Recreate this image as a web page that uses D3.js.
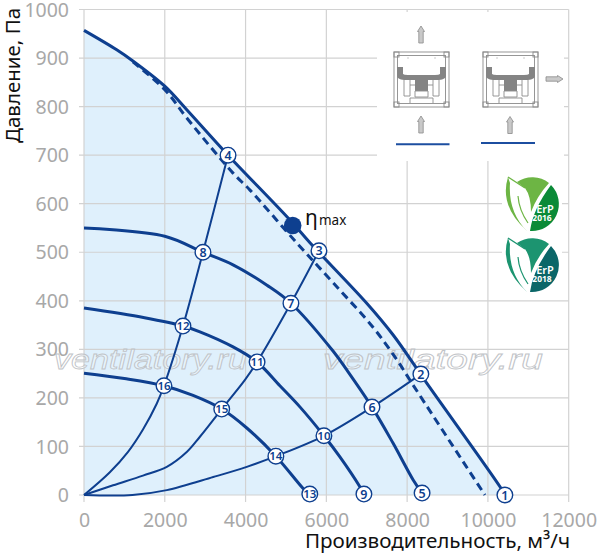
<!DOCTYPE html>
<html><head><meta charset="utf-8">
<script src="https://cdn.jsdelivr.net/npm/d3@7"></script>
<style>html,body{margin:0;padding:0;background:#fff}svg{display:block}</style>
</head><body><svg id="c" width="597" height="556"></svg>
<script>
const xTicks=[0,2000,4000,6000,8000,10000,12000];
const yTicks=[0,100,200,300,400,500,600,700,800,900,1000];
const topCurve=[[0,957],[810,917],[1210,894],[2000,842],[2550,793],[3566,700],[5060,570],[5600,519],[7000,395],[7650,330],[8490,230],[10300,17],[10420,0]];
const dashedCurve=[[1210,892],[2000,835],[2550,776],[3690,663],[4110,628],[5270,519],[6170,437],[7150,346],[7750,278],[8120,230],[9925,0]];
const speed5=[[0,550],[2000,533],[2945,500],[3690,474],[4530,432],[5123,395],[6170,296],[6510,257],[7130,181],[7650,107],[8150,31],[8370,4]];
const speed9=[[0,385],[1500,365],[2450,348],[2870,336],[3690,305],[4285,274],[4850,225],[5350,181],[5940,122],[6340,78],[6830,17],[6930,2]];
const speed13=[[0,251],[1000,240],[1980,225],[2700,205],[3410,177],[4030,138],[4750,80],[5420,14],[5590,0]];
const sys1=[[0,0],[1200,0],[2050,10],[3200,37],[4030,58],[4750,80],[5940,122],[7130,181],[8340,249]];
const sys2=[[0,0],[720,20],[1460,40],[2050,58],[2550,89],[2870,120],[3410,177],[3985,237],[4285,274],[5123,395],[5817,503]];
const sys3=[[0,0],[640,47],[1090,89],[1460,135],[1800,188],[1980,225],[2450,348],[2945,500],[3566,700]];
const markerLabels=["1","2","3","4","5","6","7","8","9","10","11","12","13","14","15","16"];
const markerX=[10420,8340,5817,3566,8370,7130,5123,2945,6930,5940,4285,2450,5590,4750,3410,1980];
const markerY=[0,249,503,700,4,181,395,500,2,122,274,348,2,80,177,225];
const etaPoint=[5166,555];
const watermark="ventilatory.ru";
const xTitle="Производительность, м³/ч", yTitle="Давление, Па";

const F="'Noto Sans',sans-serif", blue="#0e3f8f", gridC="#d2d2d2", tickC="#a8a8a8";
const svg=d3.select("#c");
const x=d3.scaleLinear().domain([0,12000]).range([84,568.7]);
const y=d3.scaleLinear().domain([0,1000]).range([495,9.5]);
const curve=d3.curveCatmullRom.alpha(0.5);
const line=d3.line().x(d=>x(d[0])).y(d=>y(d[1])).curve(curve);
const area=d3.area().x(d=>x(d[0])).y0(y(0)).y1(d=>y(d[1])).curve(curve);

svg.append("path").datum(topCurve).attr("d",area).attr("fill","#dff0fc");
const g=svg.append("g");
g.selectAll(".v").data(xTicks).join("line").attr("x1",d=>x(d)).attr("x2",d=>x(d)).attr("y1",y(1000)).attr("y2",y(0)+7).attr("stroke",gridC).attr("stroke-width",1.2);
g.selectAll(".h").data(yTicks).join("line").attr("x1",x(0)-5).attr("x2",x(12000)).attr("y1",d=>y(d)).attr("y2",d=>y(d)).attr("stroke",gridC).attr("stroke-width",1.2);
const ax=svg.append("g").attr("transform",`translate(0,${y(0)})`).call(d3.axisBottom(x).tickValues(xTicks).tickFormat(d3.format("d")).tickSize(0).tickPadding(20));
const ay=svg.append("g").attr("transform",`translate(${x(0)},0)`).call(d3.axisLeft(y).tickValues(yTicks).tickFormat(d3.format("d")).tickSize(0).tickPadding(15));
[ax,ay].forEach(a=>{a.select(".domain").remove();a.selectAll("text").attr("font-family",F).attr("font-size",19.5).attr("fill",tickC)});
ay.selectAll("text").attr("dy","0.34em");
ax.selectAll("text").attr("dy","0.62em");
// white panels behind icons and logos
svg.append("rect").attr("x",377).attr("y",12).attr("width",187).attr("height",149).attr("fill","#fff");
svg.append("rect").attr("x",502).attr("y",165).attr("width",60).attr("height",130).attr("fill","#fff");
// watermark
svg.selectAll(".wm").data([[54,247],[323,543]]).join("text").text(watermark)
 .attr("x",d=>d[0]).attr("y",369).attr("textLength",d=>d[1]-d[0]).attr("lengthAdjust","spacingAndGlyphs")
 .attr("font-family","'Liberation Sans',sans-serif").attr("font-style","italic")
 .attr("font-size",28).attr("fill","#fff").attr("fill-opacity",0.3).attr("stroke","#bfc3c7").attr("stroke-width",0.8);
// curves
const main=svg.append("g").attr("fill","none").attr("stroke",blue);
[speed5,speed9,speed13].forEach(s=>main.append("path").attr("d",line(s)).attr("stroke-width",3));
[sys1,sys2,sys3].forEach(s=>main.append("path").attr("d",line(s)).attr("stroke-width",2));
main.append("path").attr("d",line(topCurve)).attr("stroke-width",3);
main.append("path").attr("d",line(dashedCurve)).attr("stroke-width",3).attr("stroke-dasharray","8 5");
// eta
svg.append("circle").attr("cx",x(etaPoint[0])).attr("cy",y(etaPoint[1])).attr("r",8.8).attr("fill",blue);
svg.append("text").attr("x",305).attr("y",225).attr("font-family",F).attr("font-size",21).attr("fill","#111").text("η");
svg.append("text").attr("x",319).attr("y",225).attr("font-family",F).attr("font-size",13.5).attr("fill","#111").text("max");
// markers
const m=svg.selectAll(".m").data(markerLabels).join("g").attr("transform",(d,i)=>`translate(${x(markerX[i])},${y(markerY[i])})`);
m.append("circle").attr("r",7.8).attr("fill","#fff").attr("stroke",blue).attr("stroke-width",1.4);
m.append("text").text(d=>d).attr("text-anchor","middle").attr("dy","0.36em").attr("font-family",F).attr("font-weight",600).attr("font-size",d=>d.length>1?11.5:12.5).attr("fill",blue);
// titles
svg.append("text").attr("x",437.5).attr("y",548).attr("text-anchor","middle").attr("font-family",F).attr("font-size",20.6).attr("fill","#111").text(xTitle);
svg.append("text").attr("transform","translate(20,143) rotate(-90)").attr("font-family",F).attr("font-size",20.5).attr("fill","#111").text(yTitle);

// fan icons
function arrow(px,py,rot){
 svg.append("path").attr("transform",`translate(${px},${py}) rotate(${rot})`)
  .attr("d","M-2.2,8.5V-3H-3.5L0,-8.5L3.5,-3H2.2V8.5Z").attr("fill","#c9c9c9").attr("stroke","#8a8a8a").attr("stroke-width",0.8);
}
function fan(px,py){
 const f=svg.append("g").attr("transform",`translate(${px},${py})`).attr("fill","none").attr("stroke","#8c8c8c").attr("stroke-width",0.9);
 f.append("rect").attr("width",55).attr("height",55);
 f.append("rect").attr("x",3.5).attr("y",3.5).attr("width",48).attr("height",48);
 [[0,0],[50,0],[0,50],[50,50]].forEach(c=>f.append("rect").attr("x",c[0]).attr("y",c[1]).attr("width",5).attr("height",5));
 f.append("path").attr("fill","#848484").attr("stroke","none").attr("d","M3,15H9V22Q10,23 14,23H41Q45,23 46,22V15H52V24Q52,27 45,28H34V39H21V28H10Q3,27 3,24Z");
 f.append("path").attr("d","M10,28V44H16V28M39,28V44H45V28M16,33H21M34,33H39M21,39V45M34,39V45M21,39H34M16,46H39V51M16,46V51M21,45H34");
 f.append("path").attr("d","M14,5.5V6.5M41,5.5V6.5");
}
fan(394,52);fan(483,52);
arrow(421,34.5,0);arrow(421,124.5,0);arrow(510,125,0);arrow(554.5,79,90);
svg.append("line").attr("x1",396).attr("x2",449.5).attr("y1",144.3).attr("y2",144.3).attr("stroke","#1c4ea0").attr("stroke-width",2);
svg.append("line").attr("x1",481).attr("x2",535).attr("y1",143).attr("y2",143).attr("stroke","#1c4ea0").attr("stroke-width",2);

// ErP logos
function logo(cx,cy,c1,c2,yr){
 const l=svg.append("g").attr("transform",`translate(${cx},${cy})`);
 l.append("path").attr("fill",c1).attr("d","M-15,-22A27,27 0 0 1 17,-21Q5,-8 -1,8Q-1,-8 -7,-16Z");
 l.append("path").attr("fill",c2).attr("d","M19,-19A27,27 0 0 1 -2,27Q1,5 19,-19Z");
 l.append("path").attr("fill",c1).attr("d","M-24,-27Q-33,2 -5,27Q-24,8 -22,-21Z");
 l.append("path").attr("fill","none").attr("stroke",c1).attr("stroke-width",1.4).attr("d","M-24,-27L-7,-16");
 l.append("path").attr("fill","none").attr("stroke",c1).attr("stroke-width",1.2).attr("d","M-14,-8Q-13,6 -4,19");
 l.append("text").text("ErP").attr("x",13).attr("y",9).attr("text-anchor","middle").attr("font-family",F).attr("font-weight",600).attr("font-size",11).attr("fill","#fff");
 l.append("text").text(yr).attr("x",10).attr("y",17).attr("text-anchor","middle").attr("font-family",F).attr("font-weight",700).attr("font-size",8.5).attr("fill","#fff");
}
logo(532,204,"#6db544","#0b8a37","2016");
logo(532,265,"#1c9470","#0b6668","2018");
</script></body></html>
